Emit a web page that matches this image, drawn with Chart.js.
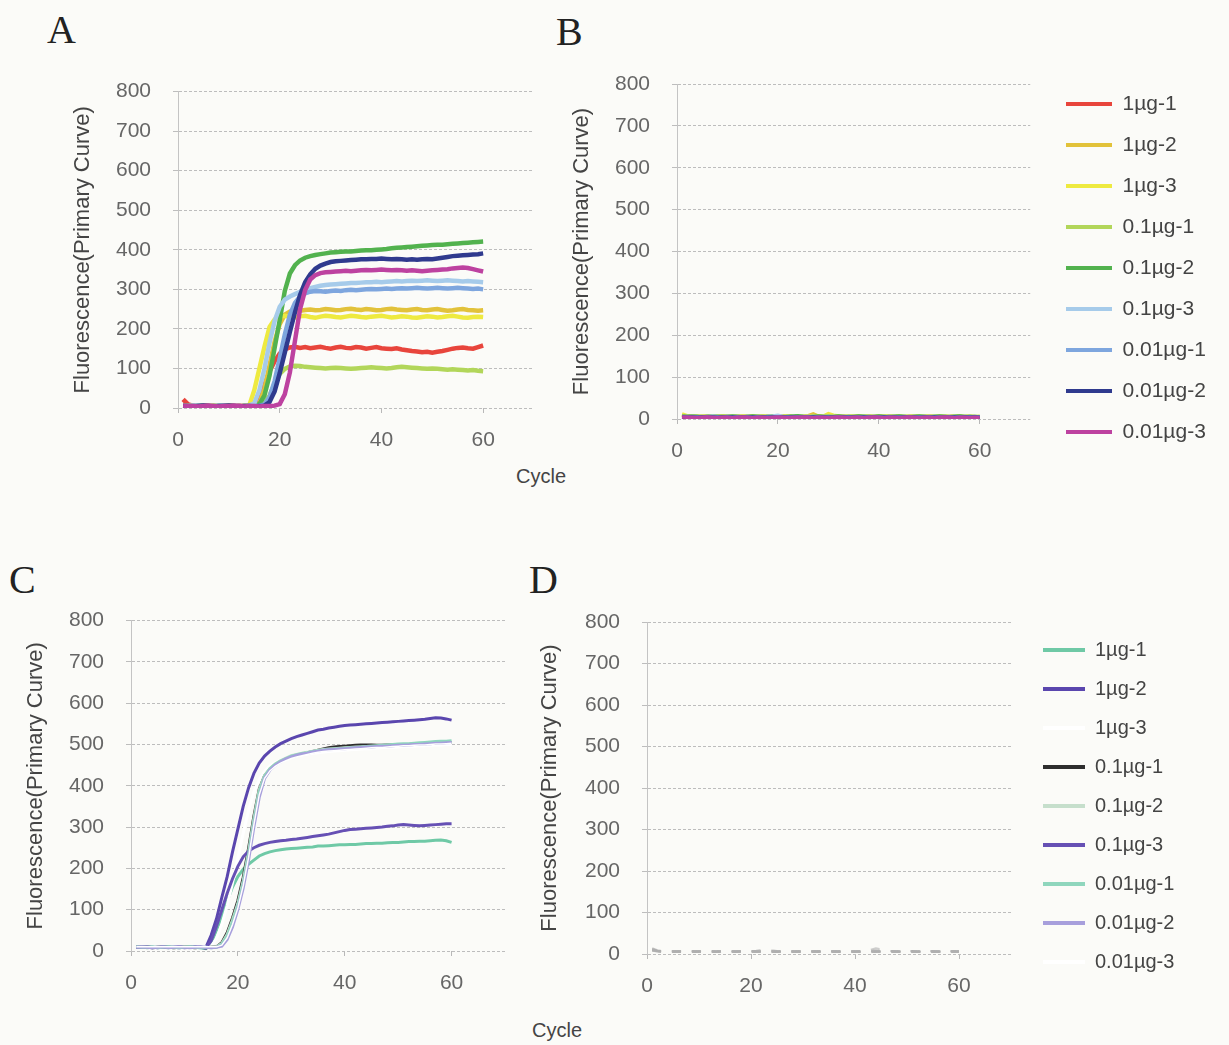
<!DOCTYPE html>
<html>
<head>
<meta charset="utf-8">
<title>Real-time PCR amplification curves</title>
<script src="https://cdn.jsdelivr.net/npm/chart.js@4.4.0/dist/chart.umd.min.js"></script>
<style>
  html, body { margin: 0; padding: 0; }
  body {
    width: 1229px; height: 1045px; position: relative; overflow: hidden;
    background: #fbfbf8; font-family: "Liberation Sans", Arial, sans-serif;
  }
  canvas { position: absolute; }
  .tag {
    position: absolute; font-family: "Liberation Serif", "Times New Roman", serif;
    font-size: 40px; line-height: 1; color: #222;
  }
  .cycle {
    position: absolute; font-size: 20px; color: #444;
    transform: translate(-50%, -50%); white-space: nowrap;
  }
</style>
</head>
<body>
<div class="tag" style="left:47px;top:10px">A</div>
<div class="tag" style="left:556px;top:12px">B</div>
<div class="tag" style="left:9px;top:560px">C</div>
<div class="tag" style="left:529px;top:560px">D</div>
<div class="cycle" style="left:541px;top:476px">Cycle</div>
<div class="cycle" style="left:557px;top:1030px">Cycle</div>

<canvas id="chartA" width="470" height="409" style="left:70px;top:57px"></canvas>
<canvas id="chartB" width="660" height="450" style="left:569px;top:40px"></canvas>
<canvas id="chartC" width="488" height="422" style="left:23px;top:586px"></canvas>
<canvas id="chartD" width="692" height="430" style="left:537px;top:580px"></canvas>

<script>
// cycle numbers shared by every run
const cycles = [
  1, 2, 3, 4, 5, 6, 7, 8, 9, 10,
  11, 12, 13, 14, 15, 16, 17, 18, 19, 20,
  21, 22, 23, 24, 25, 26, 27, 28, 29, 30,
  31, 32, 33, 34, 35, 36, 37, 38, 39, 40,
  41, 42, 43, 44, 45, 46, 47, 48, 49, 50,
  51, 52, 53, 54, 55, 56, 57, 58, 59, 60
];
const xTicks = [0, 20, 40, 60];
const yTicks = [0, 100, 200, 300, 400, 500, 600, 700, 800];
const sampleNames = ['1µg-1', '1µg-2', '1µg-3', '0.1µg-1', '0.1µg-2', '0.1µg-3', '0.01µg-1', '0.01µg-2', '0.01µg-3'];
const colorsAB = ['#e8453c', '#e2c23a', '#eeea40', '#b2d65a', '#52b24e', '#a6cbea', '#7ea6de', '#2f3a8e', '#bd42a0'];
const colorsCD = ['#6fc9a6', '#5a46ae', '#ffffff', '#2e2e2e', '#c6dfcc', '#6650b4', '#8fd6bd', '#a79fdc', '#ffffff'];

// --- A: primer set 1, template dilutions ---
const aRed = [
  22, 9, 6, 5, 7, 5, 4, 6, 5, 5,
  4, 6, 5, 5, 8, 25, 58, 92, 118, 138,
  148, 153, 155, 152, 154, 151, 153, 155, 152, 150,
  153, 155, 152, 151, 154, 153, 150, 152, 154, 151,
  150, 149, 151, 148, 146, 144, 143, 141, 142, 140,
  142, 144, 147, 150, 152, 153, 151, 150, 154, 158];
const aGold = [
  6, 5, 4, 5, 6, 5, 4, 5, 6, 5,
  5, 4, 5, 5, 6, 12, 48, 108, 168, 212,
  236, 244, 247, 246, 248, 249, 247, 248, 250, 249,
  247, 248, 250, 251, 249, 248, 250, 249, 247, 248,
  250, 251, 249, 248, 247, 249, 250, 248, 247, 249,
  250, 248, 246, 247, 249, 250, 248, 247, 246, 247];
const aYellow = [
  5, 6, 4, 5, 5, 4, 6, 5, 4, 5,
  5, 4, 5, 6, 45, 100, 155, 205, 224, 231,
  233, 231, 229, 232, 233, 230, 228, 231, 233, 232,
  230, 229, 231, 233, 232, 230, 229, 231, 232, 233,
  231, 229, 230, 232, 231, 229, 228, 230, 232, 231,
  229, 230, 232, 233, 231, 229, 228, 230, 231, 230];
const aLime = [
  5, 4, 6, 5, 4, 5, 5, 6, 4, 5,
  5, 5, 4, 5, 6, 7, 12, 32, 62, 86,
  99, 105, 107, 106, 104, 103, 102, 101, 100, 101,
  102, 101, 100, 99, 100, 101, 102, 103, 102, 101,
  100, 101, 103, 104, 103, 102, 101, 100, 99, 100,
  99, 98, 97, 98, 97, 96, 95, 96, 94, 93];
const aGreen = [
  6, 5, 5, 4, 6, 5, 5, 4, 5, 6,
  5, 4, 5, 5, 6, 10, 32, 82, 152, 222,
  296, 340, 361, 373, 380, 384, 387, 389, 391, 393,
  394, 395, 396, 396, 397, 398, 399, 399, 400, 401,
  402, 404, 405, 406, 407, 408, 409, 410, 411, 412,
  413, 413, 414, 415, 416, 417, 418, 419, 420, 421];
const aSky = [
  5, 5, 6, 4, 5, 5, 4, 6, 5, 5,
  4, 5, 5, 6, 12, 45, 100, 165, 220, 256,
  274, 282, 288, 294, 299, 303, 306, 309, 311, 312,
  313, 314, 315, 316, 316, 317, 318, 318, 319, 318,
  319, 320, 321, 320, 321, 322, 321, 322, 323, 322,
  321, 322, 323, 322, 321, 320, 321, 320, 319, 318];
const aBlue = [
  5, 4, 5, 6, 5, 4, 5, 5, 6, 4,
  5, 5, 4, 5, 5, 6, 9, 28, 68, 126,
  186, 236, 266, 282, 290, 294, 296, 295, 294, 296,
  297, 296, 298, 299, 298, 299, 300, 301, 300, 301,
  302, 301, 302, 303, 302, 303, 304, 303, 302, 303,
  304, 303, 302, 303, 304, 303, 302, 301, 302, 300];
const aNavy = [
  5, 5, 4, 5, 6, 5, 4, 5, 5, 6,
  5, 4, 5, 5, 4, 5, 6, 15, 42, 88,
  140, 192, 242, 286, 318, 338, 352, 360, 365, 369,
  371, 372, 373, 374, 375, 376, 376, 377, 377, 378,
  377, 376, 377, 376, 375, 376, 375, 376, 377, 376,
  378, 380, 382, 384, 385, 386, 387, 388, 389, 391];
const aMagenta = [
  6, 5, 5, 4, 5, 6, 5, 4, 5, 5,
  6, 5, 4, 5, 5, 4, 5, 5, 6, 10,
  35, 90, 170, 250, 298, 325, 336, 341, 343, 344,
  345, 346, 347, 346, 347, 348, 349, 348, 349, 350,
  349, 348, 349, 348, 347, 348, 347, 346, 347, 348,
  349, 350, 351, 353, 354, 355, 354, 351, 348, 345];

// --- B: negative control, same samples ---
const bRed = [
  9, 6, 5, 6, 5, 6, 5, 4, 6, 5,
  5, 6, 5, 4, 6, 5, 5, 6, 4, 5,
  6, 5, 5, 6, 4, 5, 6, 5, 5, 6,
  4, 5, 6, 5, 5, 6, 5, 4, 6, 5,
  5, 6, 5, 5, 4, 6, 5, 5, 6, 5,
  4, 5, 6, 5, 5, 6, 4, 5, 5, 4];
const bGold = [
  7, 6, 6, 5, 7, 6, 5, 6, 7, 6,
  5, 6, 7, 6, 5, 6, 6, 7, 5, 6,
  6, 7, 6, 5, 6, 8, 12, 7, 6, 5,
  6, 6, 7, 5, 6, 6, 5, 7, 6, 6,
  5, 6, 6, 7, 5, 6, 6, 5, 6, 7,
  6, 5, 6, 6, 7, 5, 6, 6, 5, 6];
const bYellow = [
  12, 8, 7, 6, 7, 6, 7, 8, 6, 7,
  6, 7, 6, 7, 8, 6, 7, 6, 7, 6,
  7, 8, 7, 6, 7, 6, 7, 8, 7, 13,
  9, 7, 6, 7, 8, 7, 6, 7, 6, 7,
  8, 7, 6, 7, 6, 7, 8, 7, 6, 7,
  6, 7, 7, 6, 8, 7, 6, 7, 6, 6];
const bLime = [
  8, 7, 6, 7, 6, 7, 6, 7, 8, 7,
  6, 7, 6, 7, 6, 8, 7, 6, 7, 6,
  7, 6, 7, 6, 7, 6, 7, 6, 7, 8,
  6, 7, 6, 7, 6, 7, 8, 7, 6, 7,
  6, 7, 8, 6, 7, 6, 7, 6, 7, 6,
  7, 6, 7, 6, 8, 7, 6, 7, 6, 6];
const bGreen = [
  7, 6, 7, 6, 5, 6, 7, 6, 5, 6,
  7, 6, 5, 6, 7, 6, 5, 6, 7, 6,
  5, 6, 7, 8, 6, 5, 6, 7, 6, 5,
  6, 7, 6, 5, 6, 7, 6, 5, 6, 7,
  6, 5, 6, 7, 6, 5, 6, 7, 6, 5,
  6, 7, 6, 5, 6, 7, 6, 5, 6, 5];
const bSky = [
  6, 5, 6, 5, 6, 5, 7, 6, 5, 6,
  5, 6, 5, 6, 5, 6, 5, 6, 7, 9,
  6, 5, 6, 5, 6, 5, 6, 5, 6, 5,
  6, 5, 6, 5, 6, 5, 6, 5, 6, 5,
  6, 5, 6, 5, 6, 5, 6, 5, 6, 5,
  6, 5, 6, 5, 6, 5, 6, 5, 6, 5];
const bBlue = [
  5, 6, 5, 4, 5, 6, 5, 4, 5, 6,
  5, 4, 5, 6, 5, 4, 5, 6, 5, 4,
  5, 6, 5, 4, 5, 6, 5, 4, 5, 6,
  5, 4, 5, 6, 5, 4, 5, 6, 5, 4,
  5, 6, 5, 4, 5, 6, 5, 4, 5, 6,
  5, 4, 5, 6, 5, 4, 5, 6, 5, 4];
const bNavy = [
  5, 4, 5, 4, 5, 4, 5, 4, 5, 4,
  5, 4, 5, 4, 5, 4, 5, 4, 5, 4,
  5, 4, 5, 4, 5, 4, 5, 4, 5, 4,
  5, 4, 5, 4, 5, 4, 5, 4, 5, 4,
  5, 4, 5, 4, 5, 4, 5, 4, 5, 4,
  5, 4, 5, 4, 5, 4, 5, 4, 5, 4];
const bMagenta = [
  5, 4, 4, 3, 4, 5, 4, 3, 4, 4,
  3, 4, 5, 4, 3, 4, 4, 3, 4, 5,
  4, 3, 4, 4, 5, 4, 3, 4, 4, 3,
  4, 5, 4, 3, 4, 4, 3, 4, 5, 4,
  3, 4, 4, 3, 4, 5, 4, 3, 4, 4,
  3, 4, 5, 4, 3, 4, 4, 3, 4, 3];

// --- C: primer set 2, template dilutions ---
const cTeal = [
  9, 10, 8, 9, 10, 9, 8, 10, 9, 9,
  10, 9, 8, 6, 20, 50, 85, 120, 155, 180,
  198, 210, 220, 230, 236, 240, 243, 245, 247, 248,
  249, 250, 251, 252, 254, 254, 255, 256, 257, 257,
  258, 258, 259, 260, 260, 261, 261, 262, 263, 263,
  264, 265, 265, 266, 266, 267, 268, 269, 267, 263];
const cPurple = [
  9, 10, 9, 8, 10, 9, 10, 9, 8, 9,
  10, 9, 9, 8, 38, 78, 130, 180, 240, 295,
  350, 395, 430, 455, 472, 484, 494, 502, 508, 514,
  519, 523, 527, 531, 535, 537, 540, 542, 544, 546,
  547, 548, 549, 550, 551, 552, 553, 554, 555, 556,
  557, 558, 559, 560, 561, 563, 565, 564, 562, 559];
const cWhiteA = [
  10, 10, 10, 10, 10, 10, 10, 10, 10, 10,
  10, 10, 10, 10, 12, 30, 65, 110, 165, 225,
  285, 340, 385, 415, 435, 448, 456, 462, 466, 470,
  473, 475, 477, 479, 480, 482, 483, 484, 485, 486,
  487, 488, 489, 490, 490, 491, 492, 493, 493, 494,
  495, 495, 496, 497, 497, 498, 499, 499, 500, 500];
const cBlack = [
  10, 9, 10, 8, 9, 10, 9, 8, 9, 10,
  9, 8, 9, 8, 9, 10, 20, 44, 80, 122,
  178, 248, 326, 392, 424, 440, 451, 459, 465, 470,
  474, 477, 480, 483, 486, 489, 492, 494, 495, 496,
  497, 498, 499, 499, 499, 498, 498, 499, 499, 500,
  500, 500, 501, 502, 502, 503, 503, 504, 505, 505];
const cPale = [
  10, 9, 10, 8, 9, 10, 9, 8, 9, 10,
  9, 8, 9, 8, 9, 10, 18, 40, 75, 115,
  170, 240, 320, 390, 425, 442, 453, 461, 467, 473,
  476, 479, 481, 484, 486, 488, 489, 490, 491, 492,
  493, 494, 494, 495, 496, 496, 497, 498, 498, 499,
  500, 500, 501, 501, 502, 503, 504, 505, 506, 506];
const cPurple2 = [
  9, 9, 10, 9, 8, 10, 9, 9, 10, 8,
  9, 10, 9, 7, 25, 60, 100, 140, 175, 205,
  228, 242, 250, 256, 260, 263, 265, 267, 268, 270,
  271, 273, 275, 277, 279, 281, 283, 286, 289, 292,
  294, 295, 296, 297, 298, 299, 300, 302, 303, 305,
  306, 305, 304, 303, 304, 305, 306, 307, 308, 308];
const cMint = [
  10, 9, 9, 10, 8, 9, 10, 9, 8, 9,
  10, 9, 8, 9, 8, 9, 16, 36, 70, 110,
  164, 234, 314, 386, 423, 441, 452, 460, 466, 472,
  475, 478, 480, 483, 485, 487, 488, 489, 490, 491,
  492, 493, 494, 495, 496, 497, 498, 499, 500, 501,
  502, 502, 503, 504, 505, 506, 507, 508, 508, 509];
const cLavender = [
  9, 10, 9, 8, 9, 10, 8, 9, 10, 9,
  8, 9, 10, 9, 8, 9, 12, 28, 58, 100,
  152, 220, 300, 372, 418, 438, 450, 458, 465, 470,
  474, 477, 479, 482, 484, 486, 487, 488, 489, 490,
  491, 492, 493, 494, 494, 495, 496, 496, 497, 498,
  498, 499, 500, 500, 501, 502, 503, 503, 504, 505];
const cWhiteB = [
  10, 10, 10, 10, 10, 10, 10, 10, 10, 10,
  10, 10, 10, 10, 10, 10, 14, 32, 64, 104,
  158, 226, 306, 378, 418, 436, 447, 455, 461, 466,
  470, 473, 476, 479, 481, 483, 484, 485, 486, 487,
  488, 489, 490, 491, 492, 493, 493, 494, 495, 496,
  497, 497, 498, 499, 499, 500, 501, 501, 502, 503];

// --- D: negative control for primer set 2 ---
const dTeal = [
  14, 9, 7, 6, 7, 6, 7, 6, 7, 6,
  7, 6, 7, 6, 7, 6, 7, 6, 7, 6,
  7, 6, 8, 6, 7, 6, 7, 6, 7, 6,
  7, 6, 7, 6, 7, 6, 7, 6, 7, 6,
  7, 6, 7, 6, 9, 6, 7, 6, 7, 6,
  7, 6, 7, 6, 7, 6, 7, 6, 7, 6];
const dPurple = [
  12, 8, 6, 7, 6, 7, 6, 7, 6, 7,
  6, 7, 6, 7, 6, 7, 6, 7, 6, 7,
  8, 10, 12, 9, 7, 6, 7, 6, 7, 6,
  7, 6, 7, 6, 7, 6, 7, 6, 7, 6,
  7, 8, 10, 14, 11, 8, 7, 6, 7, 6,
  7, 6, 7, 6, 7, 6, 7, 6, 7, 6];
const dBlank = [
  8, 7, 6, 6, 5, 6, 6, 5, 6, 6,
  5, 6, 6, 5, 6, 6, 5, 6, 6, 5,
  6, 6, 5, 6, 6, 5, 6, 6, 5, 6,
  6, 5, 6, 6, 5, 6, 6, 5, 6, 6,
  5, 6, 6, 5, 6, 6, 5, 6, 6, 5,
  6, 6, 5, 6, 6, 5, 6, 6, 5, 6];
const dBlack = [
  10, 7, 6, 5, 6, 5, 6, 5, 6, 5,
  6, 5, 6, 5, 6, 5, 6, 5, 6, 5,
  6, 5, 6, 5, 6, 5, 6, 5, 6, 5,
  6, 5, 6, 5, 6, 5, 6, 5, 6, 5,
  6, 5, 6, 5, 6, 5, 6, 5, 6, 5,
  6, 5, 6, 5, 6, 5, 6, 5, 6, 5];
const dPale = [
  9, 6, 5, 6, 5, 6, 5, 6, 5, 6,
  5, 6, 5, 6, 5, 6, 5, 6, 5, 6,
  5, 6, 5, 6, 5, 6, 5, 6, 5, 6,
  5, 6, 5, 6, 5, 6, 5, 6, 5, 6,
  5, 6, 5, 6, 5, 6, 5, 6, 5, 6,
  5, 6, 5, 6, 5, 6, 5, 6, 5, 6];
const dPurple2 = [
  11, 7, 6, 7, 6, 7, 6, 7, 6, 7,
  6, 7, 6, 7, 6, 7, 6, 7, 6, 7,
  6, 7, 9, 7, 6, 7, 6, 7, 6, 7,
  6, 7, 6, 7, 6, 7, 6, 7, 6, 7,
  6, 7, 8, 9, 7, 6, 7, 6, 7, 6,
  7, 6, 7, 6, 7, 6, 7, 6, 7, 6];
const dMint = [
  10, 7, 6, 5, 6, 6, 5, 6, 6, 5,
  6, 6, 5, 6, 6, 5, 6, 6, 5, 6,
  6, 5, 6, 6, 5, 6, 6, 5, 6, 6,
  5, 6, 6, 5, 6, 6, 5, 6, 6, 5,
  6, 6, 5, 6, 6, 5, 6, 6, 5, 6,
  6, 5, 6, 6, 5, 6, 6, 5, 6, 6];
const dLavender = [
  12, 8, 6, 6, 7, 6, 6, 7, 6, 6,
  7, 6, 6, 7, 6, 6, 7, 6, 6, 7,
  6, 6, 7, 6, 6, 7, 6, 6, 7, 6,
  6, 7, 6, 6, 7, 6, 6, 7, 6, 6,
  7, 6, 6, 7, 6, 6, 7, 6, 6, 7,
  6, 6, 7, 6, 6, 7, 6, 6, 7, 6];
const dBlankB = [
  8, 6, 5, 6, 5, 6, 5, 6, 5, 6,
  5, 6, 5, 6, 5, 6, 5, 6, 5, 6,
  5, 6, 5, 6, 5, 6, 5, 6, 5, 6,
  5, 6, 5, 6, 5, 6, 5, 6, 5, 6,
  5, 6, 5, 6, 5, 6, 5, 6, 5, 6,
  5, 6, 5, 6, 5, 6, 5, 6, 5, 6];

const FONT = '"Liberation Sans", Arial, sans-serif';

// pins a side legend: lineX = where the first swatch starts, top = first row top (canvas px)
const legendPlacer = {
  id: 'placer',
  afterLayout(chart, args, opts) {
    const lg = chart.legend;
    if (!lg || !lg.options.display || opts.lineX == null) return;
    const pad = lg.options.labels.padding;
    lg.left = opts.lineX - pad;
    lg.top = opts.top - pad;
    lg.right = chart.width;
    lg.bottom = chart.height;
    lg.width = lg.right - lg.left;
    lg.height = lg.bottom - lg.top;
  }
};

function makeSeries(list, colors, width, extra) {
  return list.map((values, i) => Object.assign({
    label: sampleNames[i],
    data: values.map((v, k) => ({ x: cycles[k], y: v })),
    borderColor: colors[i],
    legendColor: colors[i],
    borderWidth: width,
    pointRadius: 0,
    fill: false,
    order: list.length - i   // later runs drawn on top
  }, extra || {}));
}

function panelConfig(datasets, p) {
  return {
    type: 'line',
    data: { datasets },
    plugins: [legendPlacer],
    options: {
      responsive: false,
      animation: false,
      events: [],
      layout: { padding: { top: p.padTop, right: p.padRight, bottom: 0, left: 0 } },
      plugins: {
        tooltip: { enabled: false },
        placer: p.legend ? { lineX: p.legend.x, top: p.legend.y } : {},
        legend: p.legend ? {
          position: 'right',
          align: 'start',
          labels: {
            boxWidth: p.legend.box,
            boxHeight: 4,
            padding: p.legend.gap,
            color: '#444',
            font: { family: FONT, size: p.legend.size },
            generateLabels: chart => chart.data.datasets.map((ds, i) => ({
              text: ds.label,
              fillStyle: ds.legendColor,
              strokeStyle: ds.legendColor,
              lineWidth: 0,
              hidden: false,
              datasetIndex: i,
              fontColor: '#444'
            }))
          }
        } : { display: false }
      },
      scales: {
        x: {
          type: 'linear', min: 0, max: 70,
          afterBuildTicks: s => { s.ticks = xTicks.map(v => ({ value: v })); },
          afterFit: s => { s.height = p.xHeight; },
          grid: { drawOnChartArea: false, drawTicks: true, tickLength: 5, color: '#b8b8b8' },
          border: { display: false },
          ticks: { color: '#666', padding: 15, maxRotation: 0, font: { family: FONT, size: 21 } }
        },
        y: {
          min: 0, max: 800,
          afterBuildTicks: s => { s.ticks = yTicks.map(v => ({ value: v })); },
          afterFit: s => { s.width = p.yWidth; },
          grid: { color: '#bdbdbd', lineWidth: 1, tickLength: 5 },
          border: { display: true, color: '#c4c4c4', dash: [3, 2] },
          ticks: { color: '#666', padding: 22, font: { family: FONT, size: 21 } },
          title: {
            display: true, text: 'Fluorescence(Primary Curve)', color: '#444',
            padding: { top: 0, bottom: 0 }, font: { family: FONT, size: 22 }
          }
        }
      }
    }
  };
}

document.addEventListener('DOMContentLoaded', () => {
  new Chart(document.getElementById('chartA'), panelConfig(
    makeSeries([aRed, aGold, aYellow, aLime, aGreen, aSky, aBlue, aNavy, aMagenta], colorsAB, 4.5),
    { padTop: 20, padRight: 6, yWidth: 108, xHeight: 58 }
  ));

  new Chart(document.getElementById('chartB'), panelConfig(
    makeSeries([bRed, bGold, bYellow, bLime, bGreen, bSky, bBlue, bNavy, bMagenta], colorsAB, 3.5),
    { padTop: 44, padRight: 45, yWidth: 108, xHeight: 71,
      legend: { box: 46, gap: 20, size: 21, x: 497, y: 53.5 } }
  ));

  new Chart(document.getElementById('chartC'), panelConfig(
    makeSeries([cTeal, cPurple, cWhiteA, cBlack, cPale, cPurple2, cMint, cLavender, cWhiteB], colorsCD, 3)
      .map((ds, i) => i === 8 ? Object.assign(ds, { borderWidth: 1.5 }) : ds),
    { padTop: 20, padRight: 6, yWidth: 108, xHeight: 57 }
  ));

  // faint dashed traces; legend keeps the sample colours
  new Chart(document.getElementById('chartD'), panelConfig(
    makeSeries([dTeal, dPurple, dBlank, dBlack, dPale, dPurple2, dMint, dLavender, dBlankB], colorsCD, 2, {
      segment: { borderColor: () => 'rgba(175,175,175,0.6)', borderDash: () => [9, 11] }
    }),
    { padTop: 42, padRight: 60, yWidth: 110, xHeight: 56,
      legend: { box: 42, gap: 19, size: 20, x: 506, y: 60 } }
  ));
});
</script>
</body>
</html>
